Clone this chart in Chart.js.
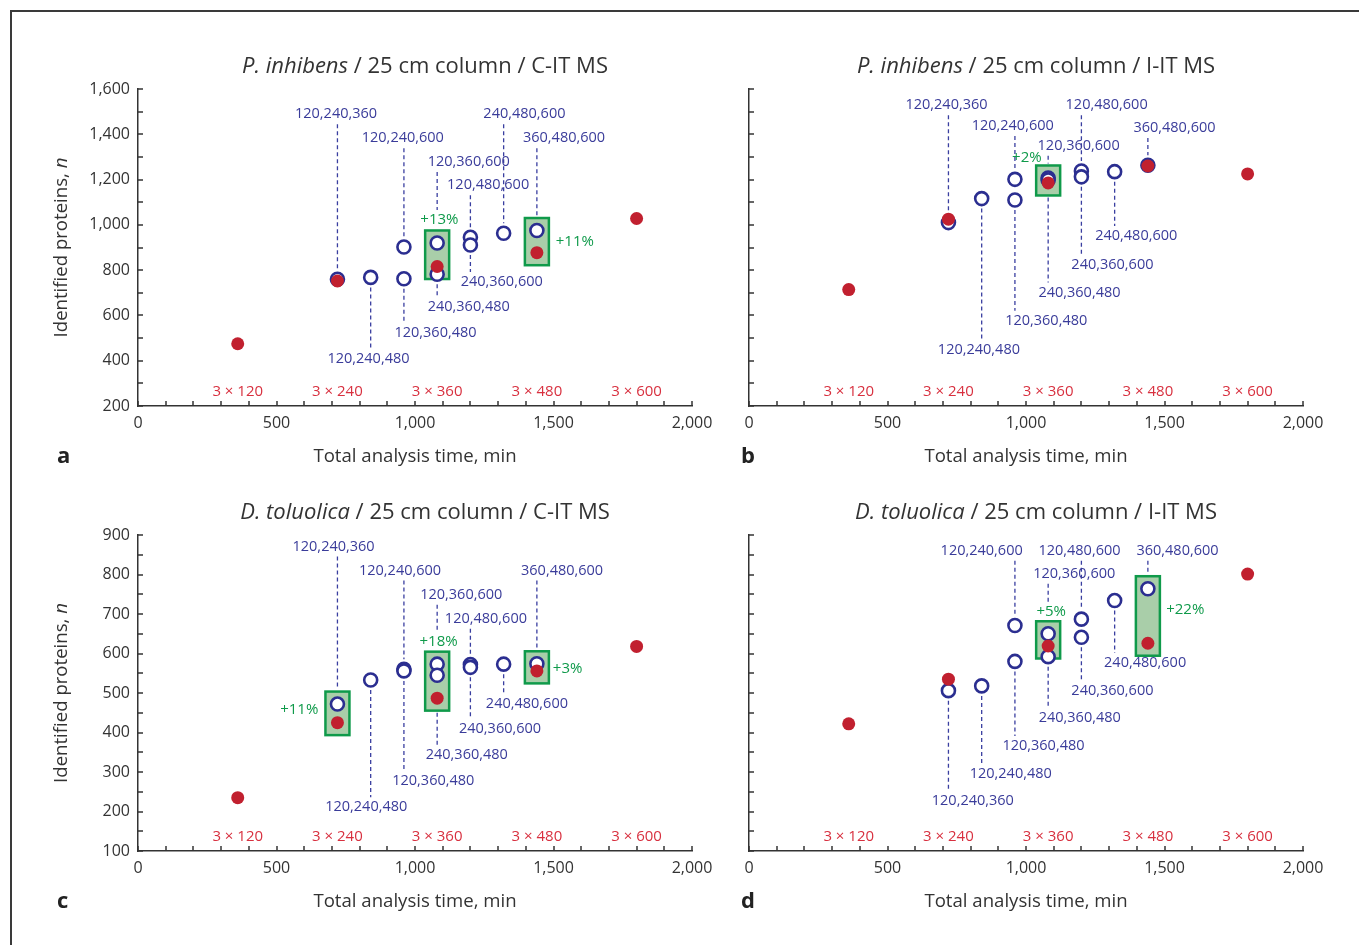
<!DOCTYPE html>
<html lang="en">
<head>
<meta charset="UTF-8">
<title>Identified proteins vs total analysis time</title>
<script src="https://cdn.jsdelivr.net/npm/chart.js"></script>
<style>
    body {
        margin: 0;
        width: 1359px;
        height: 945px;
        background: #fff;
        position: relative;
        overflow: hidden;
        font-family: "Open Sans", sans-serif;
    }
    .frame {
        position: absolute;
        left: 10px;
        top: 10px;
        right: 0;
        bottom: 0;
        border-top: 2px solid #3a3a3a;
        border-left: 2px solid #3a3a3a;
    }
    canvas {
        position: absolute;
    }
</style>
</head>
<body>
<div class="frame"></div>
<canvas id="chartA" width="712" height="451" style="left:20px;top:29px"></canvas>
<canvas id="chartB" width="712" height="451" style="left:631px;top:29px"></canvas>
<canvas id="chartC" width="712" height="450" style="left:20px;top:475px"></canvas>
<canvas id="chartD" width="712" height="450" style="left:631px;top:475px"></canvas>

<script>
// gradient combinations (3 runs) and their total time
const comboLabels = ['120,240,360', '120,240,480', '120,240,600', '120,360,480', '120,360,600',
                     '240,360,480', '120,480,600', '240,360,600', '240,480,600', '360,480,600'];
const comboTimes = [720, 840, 960, 960, 1080, 1080, 1200, 1200, 1320, 1440];

// triplicate runs of one gradient
const singleLabels = ['3 × 120', '3 × 240', '3 × 360', '3 × 480', '3 × 600'];
const singleTimes = [360, 720, 1080, 1440, 1800];

// identified proteins, per panel
const comboA = [760, 768, 902, 762, 920, 782, 945, 911, 963, 975];
const singleA = [475, 752, 816, 877, 1028];
const comboB = [1010, 1116, 1201, 1110, 1207, 1198, 1238, 1212, 1235, 1263];
const singleB = [714, 1025, 1185, 1260, 1225];
const comboC = [472, 533, 560, 556, 573, 545, 572, 565, 573, 574];
const singleC = [235, 425, 487, 556, 618];
const comboD = [506, 518, 671, 580, 650, 592, 687, 641, 734, 764];
const singleD = [422, 535, 619, 626, 801];

// gain of best combination over triplicate of same total time
const gainTimesA = [1080, 1440];
const gainTextA = ['+13%', '+11%'];
const gainTimesB = [1080];
const gainTextB = ['+2%'];
const gainTimesC = [720, 1080, 1440];
const gainTextC = ['+11%', '+18%', '+3%'];
const gainTimesD = [1080, 1440];
const gainTextD = ['+5%', '+22%'];

// where the text labels sit (x in min, y in proteins)
const labelPosA = [[715, 1489], [832, 409], [956, 1383], [1074, 521], [1194, 1278],
                   [1194, 637], [1264, 1175], [1313, 748], [1395, 1489], [1538, 1383]];
const labelPosB = [[713, 1528], [830, 447], [952, 1437], [1073, 576], [1190, 1349],
                   [1193, 701], [1291, 1528], [1312, 823], [1398, 951], [1536, 1428]];
const labelPosC = [[706, 871], [824, 211], [946, 810], [1066, 277], [1167, 749],
                   [1187, 343], [1256, 688], [1307, 408], [1404, 473], [1531, 810]];
const labelPosD = [[808, 228], [945, 295], [840, 860], [1063, 366], [1174, 802],
                   [1194, 436], [1193, 860], [1312, 505], [1430, 576], [1547, 860]];
const gainPosA = [[1088, 1022], [1577, 926]];
const gainPosB = [[1003, 1297]];
const gainPosC = [[582, 457], [1085, 631], [1551, 561]];
const gainPosD = [[1091, 705], [1575, 711]];

const BLUE = '#2b2e90';
const BLUE_TEXT = '#3a3c9a';
const RED = '#c1202f';
const RED_TEXT = '#d8303f';
const GREEN = '#0f9a4a';
const GREEN_FILL = '#a9cea9';
const AXIS = '#333';
const FONT = '"Open Sans", sans-serif';

function boxFor(p, t) {
    // box around best combination and the triplicate run at time t
    let best = -Infinity;
    comboTimes.forEach((ct, i) => { if (ct === t) best = Math.max(best, p.combo[i]); });
    const red = p.single[singleTimes.indexOf(t)];
    return { hi: Math.max(best, red), lo: Math.min(best, red) };
}

const decoPlugin = {
    id: 'deco',
    beforeDatasetsDraw(chart, args, p) {
        const ctx = chart.ctx, xs = chart.scales.x, ys = chart.scales.y;
        const boxes = {};
        ctx.save();
        p.gainTimes.forEach((t, k) => {
            const b = boxFor(p, t);
            const px = xs.getPixelForValue(t);
            const top = ys.getPixelForValue(b.hi) - 12.5;
            const bot = ys.getPixelForValue(b.lo) + 12.5;
            boxes[t] = { top, bot, gain: p.gainPos[k] };
            ctx.fillStyle = GREEN_FILL;
            ctx.strokeStyle = GREEN;
            ctx.lineWidth = 2.5;
            ctx.fillRect(px - 12, top, 24, bot - top);
            ctx.strokeRect(px - 12, top, 24, bot - top);
        });

        // dashed leader lines
        ctx.strokeStyle = '#3a3fa0';
        ctx.lineWidth = 1.3;
        ctx.setLineDash([4, 3]);
        comboTimes.forEach((t, i) => {
            const px = xs.getPixelForValue(t);
            const cy = ys.getPixelForValue(p.combo[i]);
            const ly = ys.getPixelForValue(p.labelPos[i][1]);
            const box = boxes[t];
            let y1, y2;
            if (ly < cy) {
                y1 = ly + 10;
                y2 = cy - 10;
                if (box) {
                    y2 = box.top - 2;
                    const g = box.gain;
                    if (Math.abs(g[0] - t) < 60 && ys.getPixelForValue(g[1]) < box.top) {
                        y2 = ys.getPixelForValue(g[1]) - 10;
                    }
                }
            } else {
                y1 = cy + 10;
                if (box) y1 = Math.max(y1, box.bot + 2);
                y2 = ly - 10;
            }
            if (y2 > y1) {
                ctx.beginPath();
                ctx.moveTo(px, y1);
                ctx.lineTo(px, y2);
                ctx.stroke();
            }
        });
        ctx.restore();
    },
    afterDatasetsDraw(chart, args, p) {
        const ctx = chart.ctx, xs = chart.scales.x, ys = chart.scales.y;
        const area = chart.chartArea;
        ctx.save();
        ctx.textAlign = 'center';
        ctx.textBaseline = 'middle';
        ctx.font = '14.5px ' + FONT;
        ctx.fillStyle = BLUE_TEXT;
        comboLabels.forEach((lab, i) => {
            ctx.fillText(lab, xs.getPixelForValue(p.labelPos[i][0]), ys.getPixelForValue(p.labelPos[i][1]));
        });
        ctx.font = '15px ' + FONT;
        ctx.fillStyle = GREEN;
        p.gainText.forEach((txt, k) => {
            ctx.fillText(txt, xs.getPixelForValue(p.gainPos[k][0]), ys.getPixelForValue(p.gainPos[k][1]));
        });
        ctx.fillStyle = RED_TEXT;
        singleLabels.forEach((lab, i) => {
            ctx.fillText(lab, xs.getPixelForValue(singleTimes[i]), area.bottom - 14);
        });
        ctx.restore();
    },
    afterDraw(chart, args, p) {
        const ctx = chart.ctx, xs = chart.scales.x, ys = chart.scales.y;
        const area = chart.chartArea;
        ctx.save();
        // inward ticks
        ctx.strokeStyle = AXIS;
        ctx.lineWidth = 1.5;
        ys.ticks.forEach(tk => {
            const py = Math.round(ys.getPixelForValue(tk.value));
            ctx.beginPath();
            ctx.moveTo(area.left, py);
            ctx.lineTo(area.left + 5, py);
            ctx.stroke();
        });
        xs.ticks.forEach(tk => {
            const px = Math.round(xs.getPixelForValue(tk.value));
            ctx.beginPath();
            ctx.moveTo(px, area.bottom);
            ctx.lineTo(px, area.bottom - 5);
            ctx.stroke();
        });

        ctx.fillStyle = AXIS;
        ctx.textBaseline = 'middle';
        // title, species in italics
        const cx = (area.left + area.right) / 2 + 10;
        const ty = area.top - 22;
        ctx.font = 'italic 22px ' + FONT;
        const w1 = ctx.measureText(p.title[0]).width;
        ctx.font = '22px ' + FONT;
        const w2 = ctx.measureText(p.title[1]).width;
        ctx.textAlign = 'left';
        ctx.font = 'italic 22px ' + FONT;
        ctx.fillText(p.title[0], cx - (w1 + w2) / 2, ty);
        ctx.font = '22px ' + FONT;
        ctx.fillText(p.title[1], cx - (w1 + w2) / 2 + w1, ty);

        // x title
        ctx.textAlign = 'center';
        ctx.font = '18.6px ' + FONT;
        ctx.fillText('Total analysis time, min', (area.left + area.right) / 2, area.bottom + 51);

        // y title
        if (p.showY) {
            ctx.save();
            ctx.translate(area.left - 76, (area.top + area.bottom) / 2);
            ctx.rotate(-Math.PI / 2);
            const s1 = 'Identified proteins, ';
            ctx.font = '18.6px ' + FONT;
            const a1 = ctx.measureText(s1).width;
            ctx.font = 'italic 18.6px ' + FONT;
            const a2 = ctx.measureText('n').width;
            ctx.textAlign = 'left';
            ctx.font = '18.6px ' + FONT;
            ctx.fillText(s1, -(a1 + a2) / 2, 0);
            ctx.font = 'italic 18.6px ' + FONT;
            ctx.fillText('n', -(a1 + a2) / 2 + a1, 0);
            ctx.restore();
        }

        // panel letter
        ctx.textAlign = 'left';
        ctx.font = 'bold 22px ' + FONT;
        ctx.fillStyle = '#222';
        ctx.fillText(p.letter, area.left + p.letterDx, area.bottom + 51);
        ctx.restore();
    }
};

function makePanel(canvasId, p) {
    new Chart(document.getElementById(canvasId), {
        type: 'scatter',
        data: {
            datasets: [
                {
                    data: singleTimes.map((t, i) => ({ x: t, y: p.single[i] })),
                    pointRadius: 6.5,
                    pointBackgroundColor: RED,
                    pointBorderWidth: 0
                },
                {
                    data: comboTimes.map((t, i) => ({ x: t, y: p.combo[i] })),
                    pointRadius: 6.5,
                    pointBackgroundColor: '#fff',
                    pointBorderColor: BLUE,
                    pointBorderWidth: 2.6
                }
            ]
        },
        options: {
            responsive: false,
            animation: false,
            devicePixelRatio: 1,
            events: [],
            layout: { padding: { top: 60, right: 40, left: 0, bottom: 0 } },
            plugins: {
                legend: { display: false },
                tooltip: { enabled: false },
                deco: p
            },
            scales: {
                x: {
                    type: 'linear',
                    min: 0,
                    max: 2000,
                    afterFit: s => { s.height = 74; },
                    grid: { display: false, drawTicks: false },
                    border: { display: true, color: AXIS, width: 1.5 },
                    ticks: {
                        stepSize: 100,
                        autoSkip: false,
                        maxRotation: 0,
                        padding: 8,
                        color: AXIS,
                        font: { family: FONT, size: 16 },
                        callback: v => v % 500 === 0 ? v.toLocaleString('en-US') : ''
                    }
                },
                y: {
                    min: p.yMin,
                    max: p.yMax,
                    afterFit: s => { s.width = 118; },
                    grid: { display: false, drawTicks: false },
                    border: { display: true, color: AXIS, width: 1.5 },
                    ticks: {
                        stepSize: p.yStep,
                        autoSkip: false,
                        padding: 8,
                        color: AXIS,
                        font: { family: FONT, size: 16 },
                        callback: v => (p.showY && (v - p.yMin) % p.yLabelStep === 0) ? v.toLocaleString('en-US') : ''
                    }
                }
            }
        },
        plugins: [decoPlugin]
    });
}

makePanel('chartA', {
    title: ['P. inhibens', ' / 25 cm column / C-IT MS'], letter: 'a', letterDx: -81, showY: true,
    yMin: 200, yMax: 1600, yStep: 100, yLabelStep: 200,
    combo: comboA, single: singleA, labelPos: labelPosA,
    gainTimes: gainTimesA, gainText: gainTextA, gainPos: gainPosA
});
makePanel('chartB', {
    title: ['P. inhibens', ' / 25 cm column / I-IT MS'], letter: 'b', letterDx: -8, showY: false,
    yMin: 200, yMax: 1600, yStep: 100, yLabelStep: 200,
    combo: comboB, single: singleB, labelPos: labelPosB,
    gainTimes: gainTimesB, gainText: gainTextB, gainPos: gainPosB
});
makePanel('chartC', {
    title: ['D. toluolica', ' / 25 cm column / C-IT MS'], letter: 'c', letterDx: -81, showY: true,
    yMin: 100, yMax: 900, yStep: 50, yLabelStep: 100,
    combo: comboC, single: singleC, labelPos: labelPosC,
    gainTimes: gainTimesC, gainText: gainTextC, gainPos: gainPosC
});
makePanel('chartD', {
    title: ['D. toluolica', ' / 25 cm column / I-IT MS'], letter: 'd', letterDx: -8, showY: false,
    yMin: 100, yMax: 900, yStep: 50, yLabelStep: 100,
    combo: comboD, single: singleD, labelPos: labelPosD,
    gainTimes: gainTimesD, gainText: gainTextD, gainPos: gainPosD
});
</script>
</body>
</html>
